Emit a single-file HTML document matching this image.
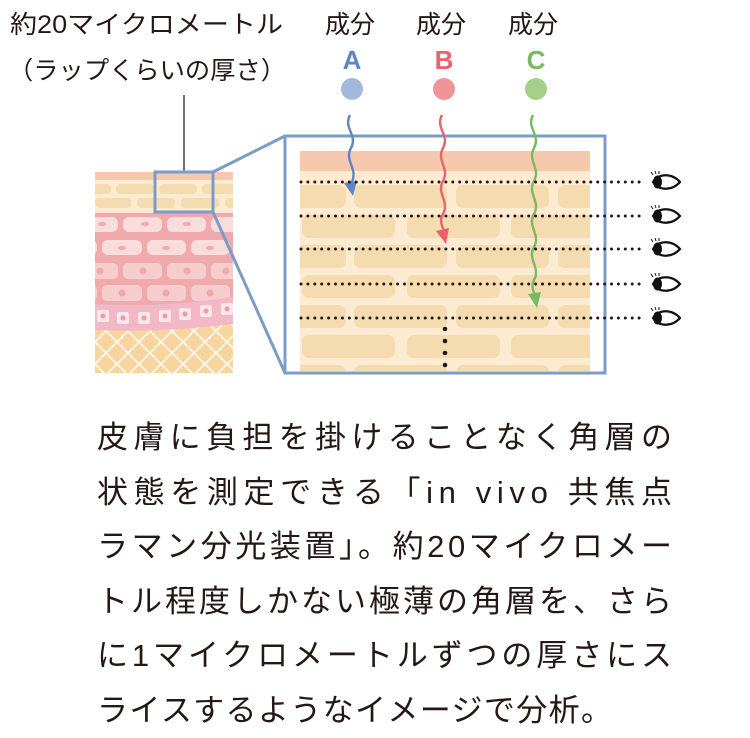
<!DOCTYPE html>
<html><head><meta charset="utf-8"><style>
html,body{margin:0;padding:0;background:#fff;}
svg{display:block;}
text{font-family:"Liberation Sans","Noto Sans CJK JP",sans-serif;fill:#231815;}
</style></head><body>
<svg width="750" height="738" viewBox="0 0 750 738" xmlns="http://www.w3.org/2000/svg">
<defs>
<clipPath id="lc"><rect x="95" y="172" width="138" height="201"/></clipPath>
<clipPath id="rc"><rect x="300" y="151" width="290" height="220"/></clipPath>
<pattern id="lat" x="95" y="320" width="22" height="22" patternUnits="userSpaceOnUse">
<rect width="22" height="22" fill="#f8d49e"/>
<path d="M0 0 L22 22 M22 0 L0 22" stroke="#fff" stroke-width="1.5"/>
</pattern>
<g id="eye">
<path d="M0 0 C6 -9 19 -9 27 0 C19 9 6 9 0 0 Z" fill="#fff" stroke="#111" stroke-width="2.2"/>
<ellipse cx="4.5" cy="0" rx="4.5" ry="6.5" fill="#111"/>
<path d="M0 -7 l-2 -3 M3 -8 l-1 -3 M6 -8 l0 -3" stroke="#111" stroke-width="1"/>
</g>
</defs>

<!-- top labels -->
<text x="10" y="33" font-size="25" textLength="273" lengthAdjust="spacingAndGlyphs">約20マイクロメートル</text>
<text x="8" y="79" font-size="25" textLength="278" lengthAdjust="spacingAndGlyphs">（ラップくらいの厚さ）</text>
<text x="325" y="33" font-size="25">成分</text>
<text x="416" y="33" font-size="25">成分</text>
<text x="508" y="33" font-size="25">成分</text>
<text x="352" y="69" font-size="26" font-weight="bold" text-anchor="middle" style="fill:#5d87c4">A</text>
<text x="444" y="69" font-size="26" font-weight="bold" text-anchor="middle" style="fill:#e8636d">B</text>
<text x="536" y="69" font-size="26" font-weight="bold" text-anchor="middle" style="fill:#79b95f">C</text>
<circle cx="352" cy="89" r="11" fill="#a3b8dc"/>
<circle cx="444" cy="89" r="11" fill="#f0949a"/>
<circle cx="536" cy="89" r="11" fill="#a6cf8b"/>
<line x1="184" y1="95" x2="184" y2="172" stroke="#444" stroke-width="1.5"/>

<!-- left skin -->
<g clip-path="url(#lc)">
<rect x="95" y="172" width="138" height="201" fill="#f0a9ad"/>
<rect x="95" y="172" width="138" height="8" fill="#f6c9ae"/>
<rect x="95" y="180" width="138" height="33" fill="#fcebd0"/>
<g fill="#f5dbb0">
<rect x="85" y="184" width="26" height="10" rx="4"/><rect x="116" y="184" width="38" height="10" rx="4"/><rect x="159" y="184" width="38" height="10" rx="4"/><rect x="202" y="184" width="38" height="10" rx="4"/>
<rect x="95" y="198" width="36" height="10" rx="4"/><rect x="137" y="198" width="38" height="10" rx="4"/><rect x="181" y="198" width="38" height="10" rx="4"/><rect x="225" y="198" width="20" height="10" rx="4"/>
</g>
<g fill="#f9dcdc">
<rect x="84" y="217" width="34" height="15" rx="6"/><rect x="123" y="217" width="39" height="15" rx="6"/><rect x="167" y="217" width="39" height="15" rx="6"/><rect x="211" y="217" width="39" height="15" rx="6"/>
<rect x="80" y="240" width="17" height="15" rx="6"/><rect x="102" y="240" width="40" height="15" rx="6"/><rect x="147" y="240" width="39" height="15" rx="6"/><rect x="191" y="240" width="39" height="15" rx="6"/>
</g>
<g fill="#f6cdcc">
<rect x="84" y="263" width="34" height="16" rx="5"/><rect x="123" y="263" width="39" height="16" rx="5"/><rect x="167" y="263" width="39" height="16" rx="5"/><rect x="211" y="263" width="39" height="16" rx="5"/>
<rect x="80" y="285" width="17" height="16" rx="5"/><rect x="102" y="285" width="40" height="16" rx="5"/><rect x="147" y="285" width="39" height="16" rx="5"/><rect x="191" y="285" width="39" height="16" rx="5"/>
</g>
<g fill="#f0a9ad">
<ellipse cx="145" cy="224" rx="4" ry="2"/><ellipse cx="187" cy="224" rx="4" ry="2"/><ellipse cx="102" cy="224" rx="4" ry="2"/>
<ellipse cx="122" cy="248" rx="4" ry="2"/><ellipse cx="166" cy="248" rx="4" ry="2"/><ellipse cx="210" cy="248" rx="4" ry="2"/>
<circle cx="100" cy="271" r="3.5"/><circle cx="143" cy="271" r="3.5"/><circle cx="187" cy="271" r="3.5"/><circle cx="226" cy="271" r="3.5"/>
<circle cx="122" cy="293" r="3.5"/><circle cx="166" cy="293" r="3.5"/><circle cx="210" cy="293" r="3.5"/>
</g>
<rect x="95" y="318" width="138" height="55" fill="url(#lat)"/>
<path d="M95 304 Q160 308 233 297 L233 324 Q160 333 95 330 Z" fill="#f2b8c6"/>
<g fill="#fbe6ea">
<rect x="97" y="310" width="12" height="12" rx="2"/><rect x="117" y="312" width="12" height="12" rx="2"/><rect x="138" y="312" width="12" height="12" rx="2"/><rect x="159" y="310" width="12" height="12" rx="2"/><rect x="179" y="308" width="12" height="12" rx="2"/><rect x="200" y="305" width="12" height="12" rx="2"/><rect x="221" y="303" width="12" height="12" rx="2"/>
</g>
<g fill="#ef98a8">
<circle cx="103" cy="316" r="2.5"/><circle cx="123" cy="318" r="2.5"/><circle cx="144" cy="318" r="2.5"/><circle cx="165" cy="316" r="2.5"/><circle cx="185" cy="314" r="2.5"/><circle cx="206" cy="311" r="2.5"/><circle cx="227" cy="309" r="2.5"/>
</g>
</g>
<rect x="155" y="172" width="58" height="40" fill="none" stroke="#7b9cc6" stroke-width="3"/>
<line x1="213" y1="172" x2="285" y2="136" stroke="#7b9cc6" stroke-width="3"/>
<line x1="213" y1="212" x2="285" y2="373" stroke="#7b9cc6" stroke-width="3"/>

<!-- right magnified -->
<rect x="285" y="136" width="320" height="237" fill="#fff" stroke="#7b9cc6" stroke-width="3"/>
<g clip-path="url(#rc)">
<rect x="300" y="151" width="290" height="220" fill="#fcebd0"/>
<rect x="300" y="151" width="290" height="20" fill="#f6c9ae"/>
<g fill="#f5dbb0">
<g id="ra"><rect x="290" y="185" width="56" height="23" rx="7"/><rect x="354" y="185" width="93" height="23" rx="7"/><rect x="456" y="185" width="93" height="23" rx="7"/><rect x="558" y="185" width="50" height="23" rx="7"/></g>
<g id="rb"><rect x="302" y="215" width="93" height="23" rx="7"/><rect x="407" y="215" width="93" height="23" rx="7"/><rect x="511" y="215" width="93" height="23" rx="7"/></g>
<use href="#ra" y="60"/><use href="#rb" y="60"/><use href="#ra" y="120"/><use href="#rb" y="120"/><use href="#ra" y="180"/>
</g>
</g>
<rect x="285" y="136" width="320" height="237" fill="none" stroke="#7b9cc6" stroke-width="3"/>

<!-- wavy arrows -->
<path d="M350 115 C343 128 358 135 351 148 C344 161 358 168 352 182 L352 188" fill="none" stroke="#5d87c4" stroke-width="2.4"/>
<path d="M344 183 L353 196 L357 181 Z" fill="#5d87c4"/>
<path d="M442 115 C435 128 450 135 443 148 C436 161 450 168 443 181 C436 194 450 201 443 214 C438 222 444 228 445 235" fill="none" stroke="#e8636d" stroke-width="2.4"/>
<path d="M436 231 L446 244 L449 228 Z" fill="#e8636d"/>
<path d="M533 115 C526 128 541 135 534 148 C527 161 541 168 534 181 C527 194 541 201 534 214 C527 227 541 234 534 247 C527 260 541 267 534 280 C530 288 535 292 535 298" fill="none" stroke="#79b95f" stroke-width="2.4"/>
<path d="M528 294 L537 308 L541 292 Z" fill="#79b95f"/>

<!-- dotted lines -->
<g stroke="#231815" stroke-width="3" stroke-linecap="round" stroke-dasharray="0 6.9">
<line x1="301" y1="182" x2="643" y2="182"/>
<line x1="301" y1="216" x2="643" y2="216"/>
<line x1="301" y1="249" x2="643" y2="249"/>
<line x1="301" y1="284" x2="643" y2="284"/>
<line x1="301" y1="318" x2="643" y2="318"/>
</g>
<g fill="#231815"><circle cx="445" cy="329" r="2.3"/><circle cx="445" cy="341" r="2.3"/><circle cx="445" cy="353" r="2.3"/><circle cx="445" cy="365" r="2.3"/></g>
<use href="#eye" x="653" y="182"/><use href="#eye" x="653" y="216"/><use href="#eye" x="653" y="249"/><use href="#eye" x="653" y="284"/><use href="#eye" x="653" y="318"/>

<!-- paragraph -->
<g font-size="31">
<text x="97" y="448" textLength="575" lengthAdjust="spacing">皮膚に負担を掛けることなく角層の</text>
<text x="97" y="503" textLength="575" lengthAdjust="spacing">状態を測定できる「in vivo 共焦点</text>
<text x="97" y="557" textLength="575" lengthAdjust="spacing">ラマン分光装置」。約20マイクロメー</text>
<text x="97" y="612" textLength="575" lengthAdjust="spacing">トル程度しかない極薄の角層を、さら</text>
<text x="97" y="666" textLength="575" lengthAdjust="spacing">に1マイクロメートルずつの厚さにス</text>
<text x="97" y="721" textLength="515" lengthAdjust="spacing">ライスするようなイメージで分析。</text>
</g>
</svg>
</body></html>
